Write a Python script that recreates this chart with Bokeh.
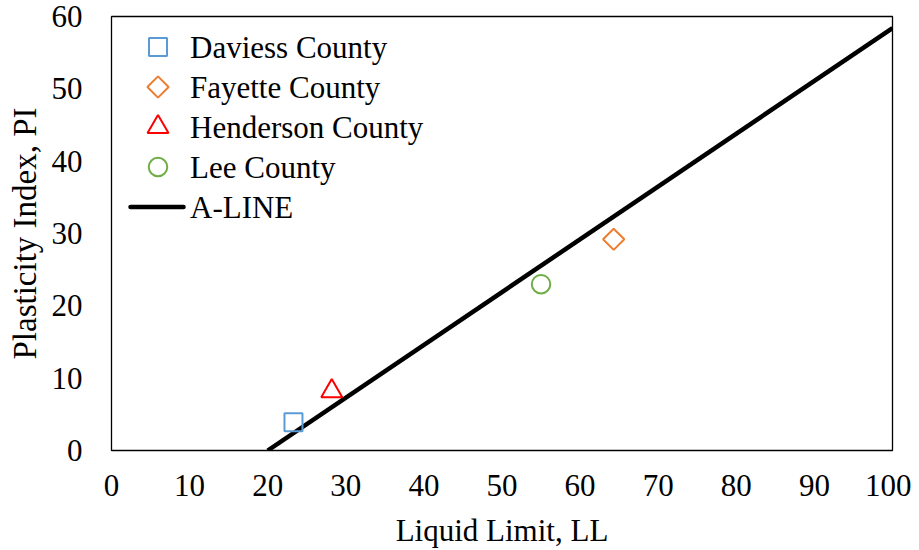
import math
from bokeh.plotting import figure
from bokeh.models import Range1d, FixedTicker, ColumnDataSource
from bokeh.core.properties import value
from bokeh.embed import file_html
from bokeh.resources import INLINE

# ---- Data ----
series_names = ["Daviess County", "Fayette County", "Henderson County", "Lee County"]
ll_values = [23.3, 64.3, 28.2, 55.0]
pi_values = [3.9, 29.2, 8.2, 23.0]
aline_label = "A-LINE"
aline_ll = [20, 100]
aline_pi = [0.73 * (v - 20) for v in aline_ll]
x_ticks = [0, 10, 20, 30, 40, 50, 60, 70, 80, 90, 100]
y_ticks = [0, 10, 20, 30, 40, 50, 60]

# ---- Styles ----
FONT = "Liberation Serif"
FS = "31px"
colors = ["#5B9BD5", "#ED7D31", "#FF0000", "#70AD47"]
markers = ["square", "square", "triangle", "circle"]
sizes = [18, 15, 21, 18.5]
angles = [0, math.pi / 4, 0, 0]

FW, FH = 781, 434
p = figure(frame_width=FW, frame_height=FH, output_backend="svg", toolbar_location=None,
           x_range=Range1d(0, 100), y_range=Range1d(0, 60),
           min_border_left=111, min_border_right=19, min_border_top=16, min_border_bottom=92)
p.grid.visible = False
p.outline_line_color = "black"
p.outline_line_width = 1.3
p.background_fill_color = "white"
p.border_fill_color = "white"

for ax in (p.xaxis[0], p.yaxis[0]):
    ax.axis_line_color = None
    ax.major_tick_line_color = None
    ax.minor_tick_line_color = None
    ax.major_label_text_font = FONT
    ax.major_label_text_font_size = FS
    ax.major_label_text_color = "black"
    ax.axis_label_text_font = FONT
    ax.axis_label_text_font_size = FS
    ax.axis_label_text_font_style = "normal"
    ax.axis_label_text_color = "black"

p.xaxis.ticker = FixedTicker(ticks=x_ticks)
p.yaxis.ticker = FixedTicker(ticks=y_ticks)
p.xaxis.axis_label = "Liquid Limit, LL"
p.yaxis.axis_label = "Plasticity Index, PI"
p.yaxis.axis_label_text_font_size = "33px"
p.xaxis.major_label_standoff = 18
p.yaxis.major_label_standoff = 23
p.xaxis.axis_label_standoff = 14
p.yaxis.axis_label_standoff = 6

# data marks
p.line(aline_ll, aline_pi, line_color="black", line_width=4.5)
for i in range(4):
    src = ColumnDataSource(dict(x=[ll_values[i]], y=[pi_values[i]]))
    p.scatter("x", "y", source=src, marker=markers[i], size=sizes[i], angle=angles[i],
              fill_color=None, line_color=colors[i], line_width=2)

# ---- Legend drawn in frame pixel space ----
p.extra_x_ranges = {"px": Range1d(0, FW)}
p.extra_y_ranges = {"px": Range1d(0, FH)}
leg_x_marker = 46.5
leg_x_text = 78.5
leg_line_x = [19, 72]
leg_top = 403.5
leg_step = 40
for i in range(4):
    cy = leg_top - i * leg_step
    p.scatter([leg_x_marker], [cy], marker=markers[i], size=sizes[i], angle=angles[i],
              fill_color=None, line_color=colors[i], line_width=2,
              x_range_name="px", y_range_name="px")
    p.text([leg_x_text], [cy], text=[series_names[i]], text_font=value(FONT),
           text_font_size=FS, text_color="black", text_baseline="middle",
           text_align="left", x_range_name="px", y_range_name="px")
cy = leg_top - 4 * leg_step
p.line(leg_line_x, [cy, cy], line_color="black", line_width=4.5, line_cap="round",
       x_range_name="px", y_range_name="px")
p.text([leg_x_text], [cy], text=[aline_label], text_font=value(FONT),
       text_font_size=FS, text_color="black", text_baseline="middle",
       text_align="left", x_range_name="px", y_range_name="px")

open("out.html", "w").write(file_html(p, INLINE))
